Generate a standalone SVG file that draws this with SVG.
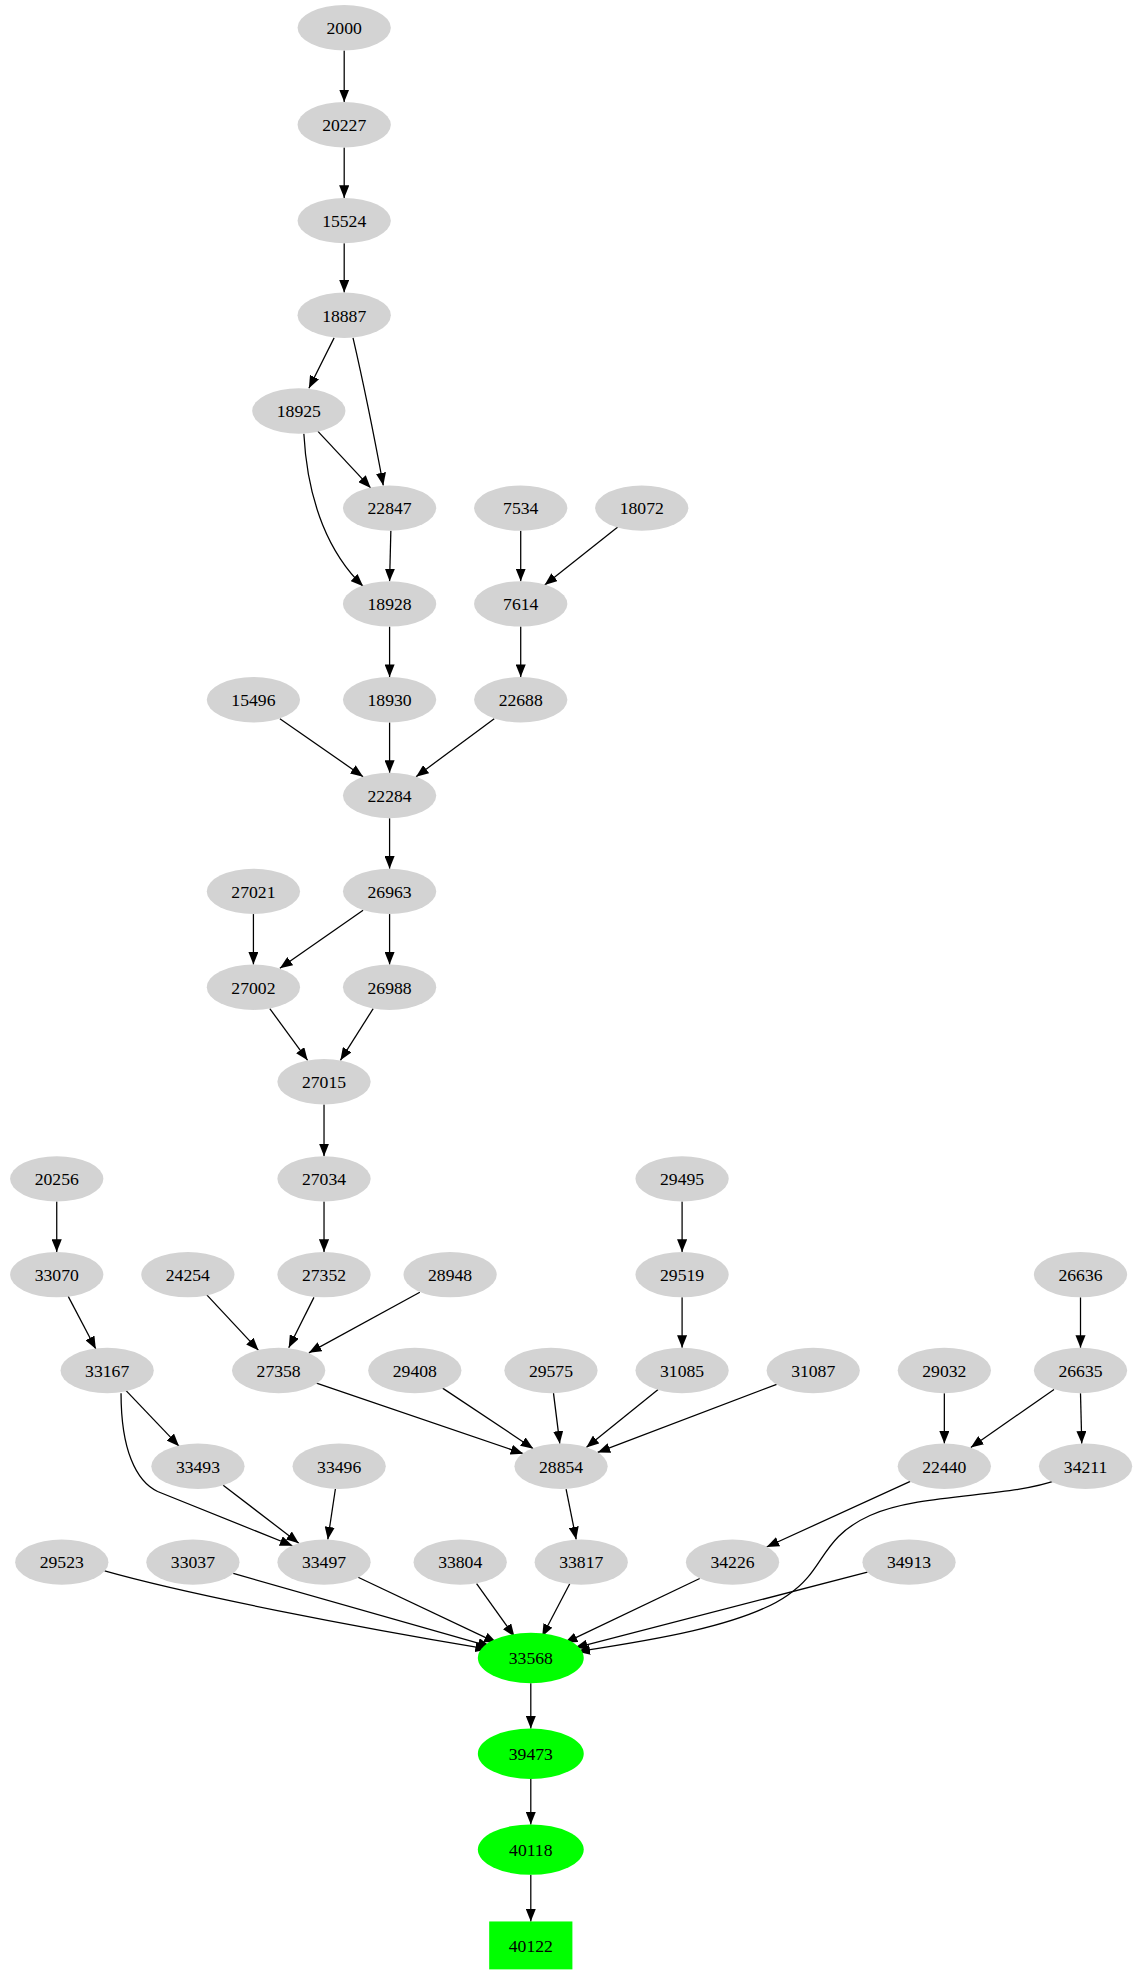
<svg xmlns="http://www.w3.org/2000/svg" width="1141" height="1979" viewBox="0 0 1141 1979">
<style>
.n ellipse{fill:#d3d3d3;stroke:none}
.g ellipse,.g rect{fill:#00ff00;stroke:none}
text{font-family:"Liberation Serif","Times New Roman",serif;font-size:14px;text-anchor:middle;fill:#000}
#edges path{fill:none;stroke:#000;stroke-width:1;marker-end:url(#a)}
</style>
<defs><marker id="a" markerUnits="userSpaceOnUse" markerWidth="11" markerHeight="8" refX="10" refY="4" orient="auto"><path d="M0,0 L10,4 L0,8 Z" fill="#000"/></marker></defs>
<rect width="1141" height="1979" fill="#fff"/>
<g transform="scale(1.2608)">
<g id="edges">
<path d="M273,40 L273,81"/><path d="M273,117 L273,157"/><path d="M273,193 L273,232"/>
<path d="M265,268 L245,308"/><path d="M280,268 Q292,320 304,385"/><path d="M252,342 L294,387"/>
<path d="M241,344 C244,400 262,440 288,465"/><path d="M310,421 L309,461"/><path d="M413,421 L413,461"/>
<path d="M490,418 L432,464"/><path d="M309,497 L309,537"/><path d="M413,497 L413,537"/>
<path d="M222,570 L288,616"/><path d="M309,573 L309,613"/><path d="M392,570 L330,616"/>
<path d="M309,649 L309,689"/><path d="M201,725 L201,765"/><path d="M288,722 L222,768"/>
<path d="M309,725 L309,765"/><path d="M214,800 L244,841"/><path d="M296,800 L270,841"/>
<path d="M257,876 L257,917"/><path d="M45,953 L45,993"/><path d="M541,953 L541,993"/>
<path d="M257,953 L257,993"/><path d="M54,1028 L76,1070"/><path d="M164,1027 L205,1071"/>
<path d="M249,1029 L229,1069"/><path d="M333,1025 L245,1073"/><path d="M541,1029 L541,1069"/>
<path d="M857,1029 L857,1069"/><path d="M100,1103 L142,1147"/>
<path d="M96,1105 C96,1150 108,1175 125,1183 L232,1226"/>
<path d="M251,1097 L415,1153"/><path d="M351,1101 L423,1149"/><path d="M439,1105 L444,1145"/>
<path d="M522,1102 L465,1148"/><path d="M616,1098 L474,1152"/><path d="M749,1105 L749,1145"/>
<path d="M836,1102 L770,1148"/><path d="M857,1105 L858,1145"/>
<path d="M177,1178 L237,1224"/><path d="M266,1181 L260,1221"/><path d="M449,1181 L457,1221"/>
<path d="M722,1175 L608,1227"/>
<path d="M838,1174 C800,1188 730,1184 690,1202 C650,1220 655,1245 625,1265 C590,1290 510,1302 458,1310"/>
<path d="M83,1246 C150,1265 280,1290 387,1308"/><path d="M185,1248 L389,1306"/><path d="M284,1251 L394,1303"/>
<path d="M378,1256 L408,1298"/><path d="M452,1256 L430,1298"/><path d="M555,1252 L448,1303"/>
<path d="M688,1247 L456,1307"/><path d="M421,1335 L421,1371"/><path d="M421,1411 L421,1447"/>
<path d="M421,1487 L421,1524"/>
</g>
<g id="n2000" class="n"><ellipse cx="273" cy="22" rx="37" ry="18"/><text x="273" y="27">2000</text></g>
<g id="n20227" class="n"><ellipse cx="273" cy="99" rx="37" ry="18"/><text x="273" y="104">20227</text></g>
<g id="n15524" class="n"><ellipse cx="273" cy="175" rx="37" ry="18"/><text x="273" y="180">15524</text></g>
<g id="n18887" class="n"><ellipse cx="273" cy="250" rx="37" ry="18"/><text x="273" y="255">18887</text></g>
<g id="n18925" class="n"><ellipse cx="237" cy="326" rx="37" ry="18"/><text x="237" y="331">18925</text></g>
<g id="n22847" class="n"><ellipse cx="309" cy="403" rx="37" ry="18"/><text x="309" y="408">22847</text></g>
<g id="n7534" class="n"><ellipse cx="413" cy="403" rx="37" ry="18"/><text x="413" y="408">7534</text></g>
<g id="n18072" class="n"><ellipse cx="509" cy="403" rx="37" ry="18"/><text x="509" y="408">18072</text></g>
<g id="n18928" class="n"><ellipse cx="309" cy="479" rx="37" ry="18"/><text x="309" y="484">18928</text></g>
<g id="n7614" class="n"><ellipse cx="413" cy="479" rx="37" ry="18"/><text x="413" y="484">7614</text></g>
<g id="n15496" class="n"><ellipse cx="201" cy="555" rx="37" ry="18"/><text x="201" y="560">15496</text></g>
<g id="n18930" class="n"><ellipse cx="309" cy="555" rx="37" ry="18"/><text x="309" y="560">18930</text></g>
<g id="n22688" class="n"><ellipse cx="413" cy="555" rx="37" ry="18"/><text x="413" y="560">22688</text></g>
<g id="n22284" class="n"><ellipse cx="309" cy="631" rx="37" ry="18"/><text x="309" y="636">22284</text></g>
<g id="n27021" class="n"><ellipse cx="201" cy="707" rx="37" ry="18"/><text x="201" y="712">27021</text></g>
<g id="n26963" class="n"><ellipse cx="309" cy="707" rx="37" ry="18"/><text x="309" y="712">26963</text></g>
<g id="n27002" class="n"><ellipse cx="201" cy="783" rx="37" ry="18"/><text x="201" y="788">27002</text></g>
<g id="n26988" class="n"><ellipse cx="309" cy="783" rx="37" ry="18"/><text x="309" y="788">26988</text></g>
<g id="n27015" class="n"><ellipse cx="257" cy="858" rx="37" ry="18"/><text x="257" y="863">27015</text></g>
<g id="n20256" class="n"><ellipse cx="45" cy="935" rx="37" ry="18"/><text x="45" y="940">20256</text></g>
<g id="n27034" class="n"><ellipse cx="257" cy="935" rx="37" ry="18"/><text x="257" y="940">27034</text></g>
<g id="n29495" class="n"><ellipse cx="541" cy="935" rx="37" ry="18"/><text x="541" y="940">29495</text></g>
<g id="n33070" class="n"><ellipse cx="45" cy="1011" rx="37" ry="18"/><text x="45" y="1016">33070</text></g>
<g id="n24254" class="n"><ellipse cx="149" cy="1011" rx="37" ry="18"/><text x="149" y="1016">24254</text></g>
<g id="n27352" class="n"><ellipse cx="257" cy="1011" rx="37" ry="18"/><text x="257" y="1016">27352</text></g>
<g id="n28948" class="n"><ellipse cx="357" cy="1011" rx="37" ry="18"/><text x="357" y="1016">28948</text></g>
<g id="n29519" class="n"><ellipse cx="541" cy="1011" rx="37" ry="18"/><text x="541" y="1016">29519</text></g>
<g id="n26636" class="n"><ellipse cx="857" cy="1011" rx="37" ry="18"/><text x="857" y="1016">26636</text></g>
<g id="n33167" class="n"><ellipse cx="85" cy="1087" rx="37" ry="18"/><text x="85" y="1092">33167</text></g>
<g id="n27358" class="n"><ellipse cx="221" cy="1087" rx="37" ry="18"/><text x="221" y="1092">27358</text></g>
<g id="n29408" class="n"><ellipse cx="329" cy="1087" rx="37" ry="18"/><text x="329" y="1092">29408</text></g>
<g id="n29575" class="n"><ellipse cx="437" cy="1087" rx="37" ry="18"/><text x="437" y="1092">29575</text></g>
<g id="n31085" class="n"><ellipse cx="541" cy="1087" rx="37" ry="18"/><text x="541" y="1092">31085</text></g>
<g id="n31087" class="n"><ellipse cx="645" cy="1087" rx="37" ry="18"/><text x="645" y="1092">31087</text></g>
<g id="n29032" class="n"><ellipse cx="749" cy="1087" rx="37" ry="18"/><text x="749" y="1092">29032</text></g>
<g id="n26635" class="n"><ellipse cx="857" cy="1087" rx="37" ry="18"/><text x="857" y="1092">26635</text></g>
<g id="n33493" class="n"><ellipse cx="157" cy="1163" rx="37" ry="18"/><text x="157" y="1168">33493</text></g>
<g id="n33496" class="n"><ellipse cx="269" cy="1163" rx="37" ry="18"/><text x="269" y="1168">33496</text></g>
<g id="n28854" class="n"><ellipse cx="445" cy="1163" rx="37" ry="18"/><text x="445" y="1168">28854</text></g>
<g id="n22440" class="n"><ellipse cx="749" cy="1163" rx="37" ry="18"/><text x="749" y="1168">22440</text></g>
<g id="n34211" class="n"><ellipse cx="861" cy="1163" rx="37" ry="18"/><text x="861" y="1168">34211</text></g>
<g id="n29523" class="n"><ellipse cx="49" cy="1239" rx="37" ry="18"/><text x="49" y="1244">29523</text></g>
<g id="n33037" class="n"><ellipse cx="153" cy="1239" rx="37" ry="18"/><text x="153" y="1244">33037</text></g>
<g id="n33497" class="n"><ellipse cx="257" cy="1239" rx="37" ry="18"/><text x="257" y="1244">33497</text></g>
<g id="n33804" class="n"><ellipse cx="365" cy="1239" rx="37" ry="18"/><text x="365" y="1244">33804</text></g>
<g id="n33817" class="n"><ellipse cx="461" cy="1239" rx="37" ry="18"/><text x="461" y="1244">33817</text></g>
<g id="n34226" class="n"><ellipse cx="581" cy="1239" rx="37" ry="18"/><text x="581" y="1244">34226</text></g>
<g id="n34913" class="n"><ellipse cx="721" cy="1239" rx="37" ry="18"/><text x="721" y="1244">34913</text></g>
<g id="n33568" class="g"><ellipse cx="421" cy="1315" rx="42" ry="20"/><text x="421" y="1320">33568</text></g>
<g id="n39473" class="g"><ellipse cx="421" cy="1391" rx="42" ry="20"/><text x="421" y="1396">39473</text></g>
<g id="n40118" class="g"><ellipse cx="421" cy="1467" rx="42" ry="20"/><text x="421" y="1472">40118</text></g>
<g id="n40122" class="g"><rect x="388" y="1524" width="66" height="38"/><text x="421" y="1548">40122</text></g>
</g>
</svg>
